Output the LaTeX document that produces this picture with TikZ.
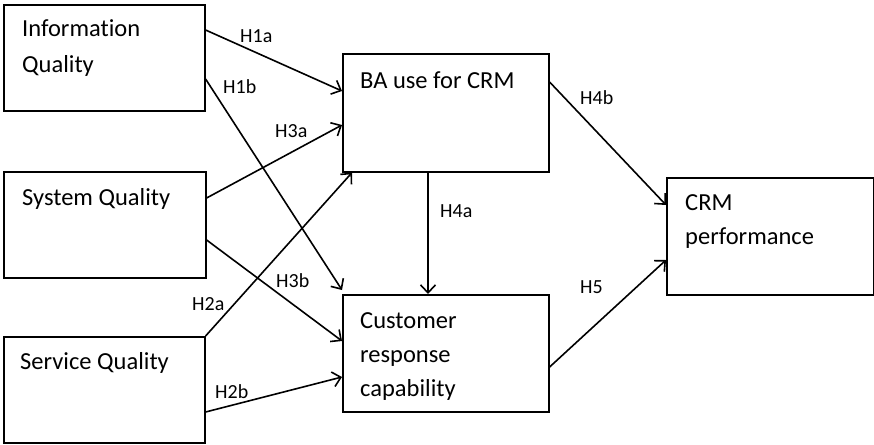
\documentclass[tikz,border=0pt]{standalone}
\usepackage{fontspec}
\setmainfont[Ligatures=NoCommon]{Carlito}
\usetikzlibrary{arrows.meta}

\begin{document}
\begin{tikzpicture}[x=1pt,y=-1pt,
        box/.style={draw,line width=1.6pt,anchor=north west,inner sep=0pt},
        txt/.style={anchor=base west,inner sep=0pt,font=\fontsize{24.5}{29}\selectfont},
        hyp/.style={anchor=base west,inner sep=0pt,font=\fontsize{20}{24}\selectfont},
        arr/.style={line width=1.6pt,-{Straight Barb[length=8pt,width=15pt]}}]
                \useasboundingbox (0,0) rectangle (874,444);
                % boxes
                \node[box,minimum width=201pt,minimum height=106pt] (iq) at (3,4) {};
                \node[box,minimum width=202pt,minimum height=106pt] (sq) at (3,171) {};
                \node[box,minimum width=201pt,minimum height=106pt] (svq) at (3,336) {};
                \node[box,minimum width=206pt,minimum height=118pt] (ba) at (342,53) {};
                \node[box,minimum width=206pt,minimum height=117pt] (crc) at (342,294) {};
                \node[box,minimum width=207pt,minimum height=117pt] (crm) at (666,177) {};
                % box texts
                \node[txt] (iq1) at (22,37) {Information};
                \node[txt] (iq2) at (22,72) {Quality};
                \node[txt] (sq1) at (22,205) {System Quality};
                \node[txt] (svq1) at (20,369) {Service Quality};
                \node[txt] (ba1) at (360,88) {BA use for CRM};
                \node[txt] (crc1) at (360,328) {Customer};
                \node[txt] (crc2) at (360,362) {response};
                \node[txt] (crc3) at (360,396) {capability};
                \node[txt] (crm1) at (685,210) {CRM};
                \node[txt] (crm2) at (685,244) {performance};
                % paths
                \draw[arr] (iq.east |- 0,30) -- (ba.west |- 0,91);
                \draw[arr] (iq.east |- 0,79) -- (crc.west |- 0,290);
                \draw[arr] (sq.east |- 0,198) -- (ba.west |- 0,125);
                \draw[arr] (sq.east |- 0,240) -- (crc.west |- 0,341);
                \draw[arr] (svq.north east) -- (ba.south -| 352,0);
                \draw[arr] (svq.east |- 0,412) -- (crc.west |- 0,377);
                \draw[arr] (ba.south -| 428,0) -- (crc.north -| 428,0);
                \draw[arr] (ba.east |- 0,82) -- (crm.west |- 0,205);
                \draw[arr] (crc.east |- 0,367) -- (crm.west |- 0,260);
                % hypotheses
                \node[hyp] (h1a) at (240,43) {H1a};
                \node[hyp] (h1b) at (223,93) {H1b};
                \node[hyp] (h3a) at (275,137) {H3a};
                \node[hyp] (h3b) at (276,287) {H3b};
                \node[hyp] (h2a) at (192,310) {H2a};
                \node[hyp] (h2b) at (215,398) {H2b};
                \node[hyp] (h4a) at (440,217) {H4a};
                \node[hyp] (h4b) at (580,104) {H4b};
                \node[hyp] (h5) at (580,293) {H5};
\end{tikzpicture}
\end{document}
